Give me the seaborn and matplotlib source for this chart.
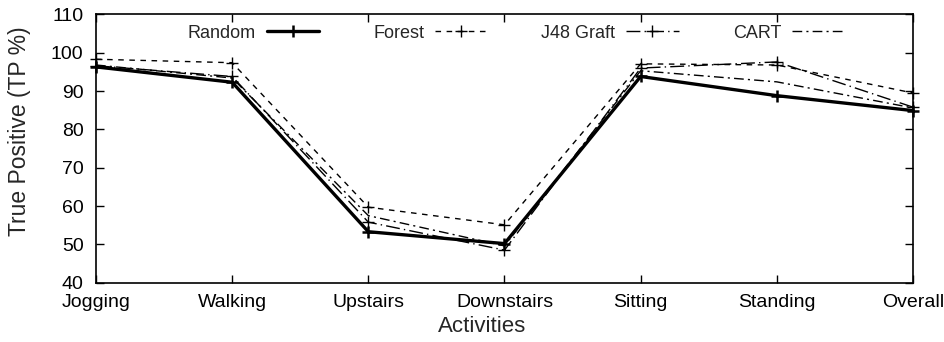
import matplotlib
matplotlib.use("Agg")
import matplotlib.pyplot as plt
import seaborn as sns
import pandas as pd

# True-positive rate (%) per activity for each classifier
activities = ["Jogging", "Walking", "Upstairs", "Downstairs", "Sitting", "Standing", "Overall"]
random_tp = [96.3, 92.3, 53.3, 50.2, 93.8, 88.8, 84.9]
forest_tp = [98.3, 97.4, 59.7, 55.1, 97.1, 96.8, 89.5]
j48_tp = [96.6, 93.8, 55.8, 48.5, 96.0, 97.6, 85.8]
cart_tp = [96.8, 93.4, 57.5, 49.6, 95.3, 92.4, 85.6]

series_names = ["Random", "Forest", "J48 Graft", "CART"]
series_values = [random_tp, forest_tp, j48_tp, cart_tp]

y_ticks = [40, 50, 60, 70, 80, 90, 100, 110]

sns.set_theme(style="ticks")
plt.rcParams["font.family"] = ["Liberation Sans", "DejaVu Sans"]

fig = plt.figure(figsize=(9.45, 3.42), dpi=100)
ax = fig.add_axes([96 / 945, 1 - 282.7 / 342, (913 - 96) / 945, (282.7 - 14.4) / 342])

styles = {
    "Random": dict(lw=2.4, ls="-", marker="+", ms=8, mew=1.8),
    "Forest": dict(lw=1.0, ls=(0, (4, 4)), marker="+", ms=9, mew=1.0),
    "J48 Graft": dict(lw=1.0, ls=(0, (10, 3, 1, 3)), marker="+", ms=9, mew=1.0),
    "CART": dict(lw=1.0, ls=(0, (7, 3, 1.5, 3)), marker=None),
}

for name, vals in zip(series_names, series_values):
    df = pd.DataFrame({"activity": activities, "tp": vals})
    st = styles[name]
    kw = dict(color="black", linewidth=st["lw"], linestyle=st["ls"], clip_on=False)
    if st["marker"]:
        kw.update(marker=st["marker"], markersize=st["ms"], markeredgewidth=st["mew"],
                  markeredgecolor="black", markerfacecolor="black")
    sns.lineplot(data=df, x="activity", y="tp", ax=ax, label=name, sort=False, **kw)

ax.set_xlim(0, len(activities) - 1)
ax.set_ylim(40, 110)
ax.set_yticks(y_ticks)
ax.set_xticks(range(len(activities)))
ax.set_xticklabels(activities)

for side in ["left", "right", "top", "bottom"]:
    ax.spines[side].set_visible(True)
    ax.spines[side].set_color("black")
    ax.spines[side].set_linewidth(1.2)

ax.tick_params(axis="both", which="major", direction="in", length=6, width=1.0,
               colors="black", labelsize=14, top=True, right=True)
ax.tick_params(axis="y", pad=9)
ax.tick_params(axis="x", pad=8)

ax.set_xlabel("Activities", fontsize=16)
ax.set_ylabel("True Positive (TP %)", fontsize=16.5)
ax.yaxis.set_label_coords(-0.08, 0.565)
ax.xaxis.set_label_coords(0.472, -0.125)

leg = ax.legend(loc="center", bbox_to_anchor=(0.514, 0.93), ncol=4, frameon=False,
                markerfirst=False, fontsize=13, handlelength=2.9, handletextpad=0.6,
                columnspacing=3.0, borderpad=0, borderaxespad=0)

fig.savefig("out.png", dpi=100, facecolor="white")
